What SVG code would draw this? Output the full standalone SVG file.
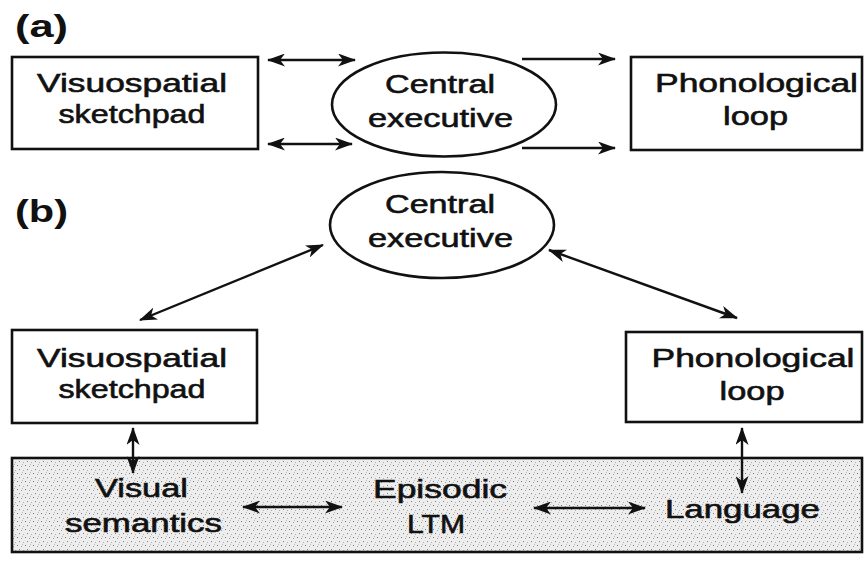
<svg xmlns="http://www.w3.org/2000/svg" width="864" height="563" viewBox="0 0 864 563">
<defs>
<style>
.box{fill:#fff;stroke:#111;stroke-width:2.6}
.ell{fill:#fff;stroke:#111;stroke-width:2.6}
.lbl{font-family:"Liberation Sans",Arial,sans-serif;font-size:26px;fill:#111;stroke:#111;stroke-width:0.6;text-anchor:middle}
.tag{font-family:"Liberation Sans",Arial,sans-serif;font-size:31px;font-weight:bold;fill:#111}
.con{stroke:#111;stroke-width:2.4;fill:none}
.bi{marker-start:url(#ah);marker-end:url(#ah)}
.uni{marker-end:url(#ah)}
</style>
<marker id="ah" viewBox="0 0 18 13" refX="17" refY="6.5" markerWidth="18" markerHeight="13" markerUnits="userSpaceOnUse" orient="auto-start-reverse">
<path d="M0,0 L18,6.5 L0,13 L5,6.5 z" fill="#111"/>
</marker>
<pattern id="stip" width="8" height="8" patternUnits="userSpaceOnUse">
<rect width="8" height="8" fill="#ededed"/>
<rect x="1" y="1" width="1" height="1" fill="#7a7a7a"/>
<rect x="5" y="2" width="1" height="1" fill="#a0a0a0"/>
<rect x="3" y="5" width="1" height="1" fill="#808080"/>
<rect x="7" y="6" width="1" height="1" fill="#b0b0b0"/>
<rect x="6" y="0" width="1" height="1" fill="#bbbbbb"/>
</pattern>
</defs>
<rect width="864" height="563" fill="#fff"/>

<text class="tag" x="15" y="37" textLength="53" lengthAdjust="spacingAndGlyphs">(a)</text>
<text class="tag" x="15" y="222" textLength="53" lengthAdjust="spacingAndGlyphs">(b)</text>

<g id="a-visuospatial">
<rect class="box" x="12" y="57" width="246" height="92"/>
<text class="lbl" x="132" y="92" textLength="190" lengthAdjust="spacingAndGlyphs">Visuospatial</text>
<text class="lbl" x="132" y="123" textLength="147" lengthAdjust="spacingAndGlyphs">sketchpad</text>
</g>
<g id="a-central">
<ellipse class="ell" cx="444" cy="104.5" rx="112" ry="52"/>
<text class="lbl" x="440" y="93" textLength="110" lengthAdjust="spacingAndGlyphs">Central</text>
<text class="lbl" x="440.5" y="127" textLength="145" lengthAdjust="spacingAndGlyphs">executive</text>
</g>
<g id="a-phonological">
<rect class="box" x="631" y="57" width="231" height="93"/>
<text class="lbl" x="756.5" y="92" textLength="203" lengthAdjust="spacingAndGlyphs">Phonological</text>
<text class="lbl" x="755.5" y="125" textLength="65" lengthAdjust="spacingAndGlyphs">loop</text>
</g>

<g id="b-central">
<ellipse class="ell" cx="442" cy="225" rx="112" ry="53"/>
<text class="lbl" x="440" y="213" textLength="110" lengthAdjust="spacingAndGlyphs">Central</text>
<text class="lbl" x="440.5" y="247" textLength="145" lengthAdjust="spacingAndGlyphs">executive</text>
</g>
<g id="b-visuospatial">
<rect class="box" x="12" y="330" width="245" height="93"/>
<text class="lbl" x="132" y="367" textLength="190" lengthAdjust="spacingAndGlyphs">Visuospatial</text>
<text class="lbl" x="132" y="398" textLength="147" lengthAdjust="spacingAndGlyphs">sketchpad</text>
</g>
<g id="b-phonological">
<rect class="box" x="626" y="332" width="236" height="90"/>
<text class="lbl" x="753" y="367" textLength="203" lengthAdjust="spacingAndGlyphs">Phonological</text>
<text class="lbl" x="752" y="400" textLength="65" lengthAdjust="spacingAndGlyphs">loop</text>
</g>
<g id="b-ltm">
<rect x="12" y="458" width="850" height="94" fill="url(#stip)" stroke="#111" stroke-width="2.6"/>
<text class="lbl" x="141.5" y="497" textLength="93" lengthAdjust="spacingAndGlyphs">Visual</text>
<text class="lbl" x="143.5" y="532" textLength="157" lengthAdjust="spacingAndGlyphs">semantics</text>
<text class="lbl" x="440" y="498" textLength="134" lengthAdjust="spacingAndGlyphs">Episodic</text>
<text class="lbl" x="436" y="533" textLength="58" lengthAdjust="spacingAndGlyphs">LTM</text>
<text class="lbl" x="742.5" y="518" textLength="155" lengthAdjust="spacingAndGlyphs">Language</text>
</g>

<g id="connectors">
<line class="con bi" x1="268" y1="60" x2="355" y2="60"/>
<line class="con bi" x1="268" y1="144" x2="352" y2="144"/>
<line class="con uni" x1="522" y1="59" x2="615" y2="59"/>
<line class="con uni" x1="522" y1="148" x2="615" y2="148"/>
<line class="con bi" x1="140" y1="320" x2="323" y2="245"/>
<line class="con bi" x1="549" y1="250" x2="737" y2="318"/>
<line class="con bi" x1="133" y1="428" x2="133" y2="473"/>
<line class="con bi" x1="742" y1="428" x2="742" y2="493"/>
<line class="con bi" x1="243" y1="507" x2="342" y2="507"/>
<line class="con bi" x1="534" y1="508" x2="645" y2="508"/>
</g>
</svg>
